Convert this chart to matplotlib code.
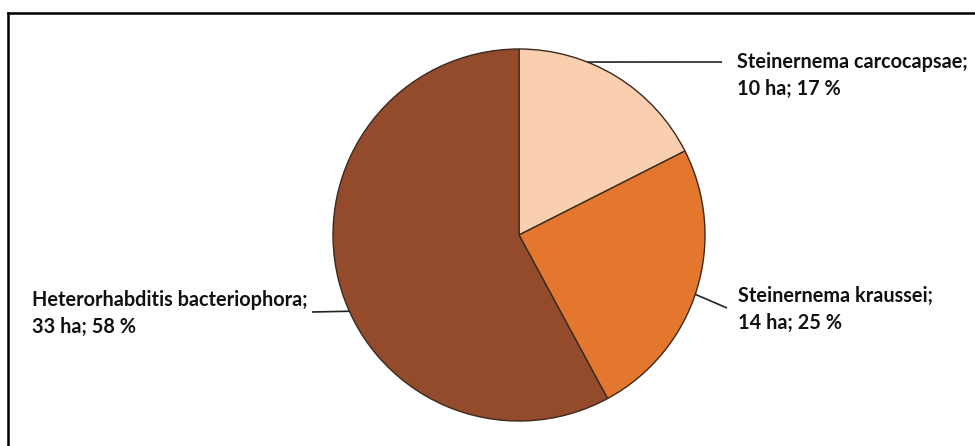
import numpy as np
import matplotlib
matplotlib.use("Agg")
import matplotlib.pyplot as plt
from matplotlib.lines import Line2D

# areas treated per nematode species (ha)
species = ["Steinernema carcocapsae", "Steinernema kraussei", "Heterorhabditis bacteriophora"]
area_ha = [10, 14, 33]
share_pct = [17, 25, 58]
colors = ["#F9CFAF", "#E2772D", "#934B2B"]

plt.rcParams['font.family'] = ['Lato', 'DejaVu Sans']

W, H = 975, 446
fig = plt.figure(figsize=(W / 100, H / 100), dpi=100)

# pie centre and radius in pixels
cx, cy, r = 519, 235, 186
ax = fig.add_axes([(cx - r) / W, (H - cy - r) / H, 2 * r / W, 2 * r / H])
ax.pie(area_ha, colors=colors, startangle=90, counterclock=False, radius=1,
       wedgeprops=dict(edgecolor="#3b2a1f", linewidth=1.0))
ax.set_xlim(-1, 1)
ax.set_ylim(-1, 1)
ax.set_aspect('equal')
ax.axis('off')

def px(x, y):
    # pixel position -> pie data coordinates
    return (x - cx) / r, (cy - y) / r

# label layout: leader start angle on rim, leader end (px), text anchor (px)
layout = [
    (68.4, (722, 62), (737, 52)),
    (-18.6, (727, 308), (738, 286)),
    (204.2, (312, 312), (32, 290)),
]

for name, ha_, pct, (ang, end, txt) in zip(species, area_ha, share_pct, layout):
    a = np.deg2rad(ang)
    ex, ey = px(*end)
    ax.plot([np.cos(a), ex], [np.sin(a), ey], color="#222222", lw=1.2,
            clip_on=False, solid_capstyle='butt')
    tx, ty = px(*txt)
    ax.text(tx, ty, f"{name};\n{ha_} ha; {pct} %", ha='left', va='top',
            fontsize=14.3, fontweight='bold', color="#111111",
            linespacing=1.45, clip_on=False)

# frame lines along the top and left edge
fig.add_artist(Line2D([8 / W, 1], [1 - 13 / H, 1 - 13 / H], color='black', lw=1.8,
                      transform=fig.transFigure))
fig.add_artist(Line2D([8 / W, 8 / W], [0, 1 - 13 / H], color='black', lw=1.8,
                      transform=fig.transFigure))

fig.savefig("out.png", dpi=100, facecolor='white')
